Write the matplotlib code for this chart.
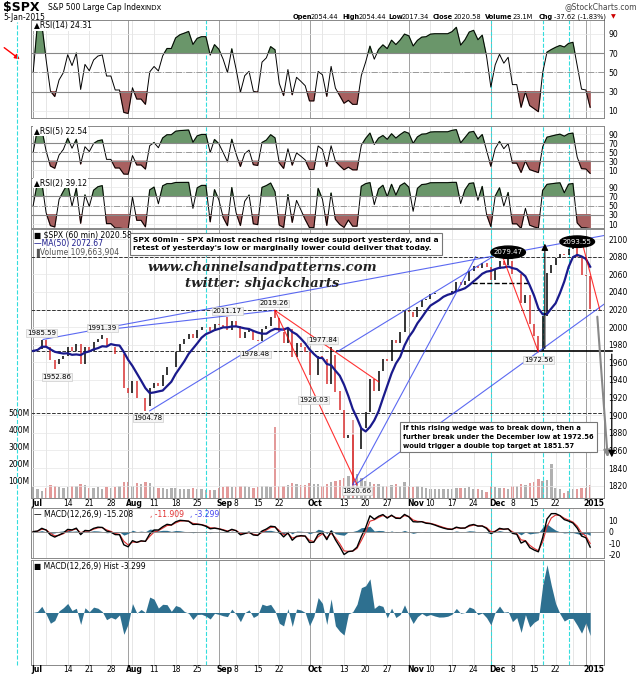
import numpy as np
import pandas as pd
import matplotlib
matplotlib.use('Agg')
import matplotlib.pyplot as plt
from matplotlib.patches import Ellipse, FancyArrowPatch

# ---- data (one value per trading day) ----
holidays = ['2014-07-04', '2014-09-01', '2014-11-27', '2014-12-25', '2015-01-01']
dates = pd.bdate_range('2014-07-01', '2015-01-05')
dates = dates[~dates.isin(pd.to_datetime(holidays))]

closes = [1973, 1975, 1985, 1978, 1963, 1958, 1964, 1967, 1977, 1973, 1981, 1958, 1978,
          1973, 1983, 1987, 1988, 1978, 1978, 1970, 1970, 1931,
          1925, 1939, 1920, 1920, 1910, 1931, 1936, 1933, 1946, 1955, 1955, 1972, 1981,
          1986, 1992, 1988, 1997, 2000, 2000, 1996, 2003,
          2002, 2000, 1997, 2007, 2001, 1988, 1995, 1997, 1985, 1984, 1998, 2001, 2011,
          2010, 1994, 1982, 1998, 1966, 1982, 1977, 1972,
          1946, 1946, 1967, 1964, 1935, 1968, 1928, 1906, 1874, 1877, 1862, 1862, 1886,
          1904, 1941, 1927, 1950, 1964, 1961, 1985, 1982, 1994, 2018,
          2017, 2012, 2023, 2031, 2032, 2038, 2039, 2039, 2039, 2039, 2041, 2051, 2048,
          2052, 2064, 2069, 2067, 2073, 2068,
          2054, 2066, 2075, 2071, 2075, 2060, 2060, 2027, 2036, 2003, 1990, 1973, 2013,
          2062, 2071, 2078, 2083, 2082, 2089, 2091, 2080, 2059,
          2058, 2021]

volume_m = [62, 55, 40, 58, 75, 70, 66, 60, 64, 72, 70, 85, 78, 60, 58, 62, 55, 66, 58, 64, 70, 95,
            92, 70, 88, 84, 96, 90, 62, 60, 58, 55, 60, 56, 52, 55, 54, 58, 50, 52, 48, 46, 45,
            60, 64, 70, 66, 62, 70, 72, 64, 60, 64, 72, 68, 62, 420, 72, 70, 74, 86, 80, 75, 78,
            90, 85, 80, 70, 82, 92, 100, 105, 115, 130, 460, 140, 120, 100, 95, 85, 82, 70, 68,
            75, 80, 72, 95,
            70, 66, 70, 62, 60, 55, 50, 52, 54, 52, 55, 58, 56, 60, 62, 55, 50, 48, 35,
            70, 62, 60, 58, 55, 68, 72, 80, 75, 90, 95, 110, 98, 105, 200, 60, 50, 30, 40, 55, 52, 60,
            60, 75]

# intraday extremes that are labelled on the chart
extremes = {'2014-07-03': 1985.59, '2014-07-09': 1952.86, '2014-07-24': 1991.39,
            '2014-08-07': 1904.78, '2014-09-04': 2011.17, '2014-09-19': 2019.26,
            '2014-09-25': 1978.48, '2014-10-08': 1977.84, '2014-10-09': 1926.03,
            '2014-10-15': 1820.66, '2014-12-05': 2079.47, '2014-12-16': 1972.56,
            '2014-12-29': 2093.55}
label_pos = {'1985.59': (2, 1993), '1952.86': (5.5, 1943), '1991.39': (16, 1999),
             '1904.78': (26.6, 1897), '2011.17': (45, 2018), '2019.26': (55.8, 2027),
             '1978.48': (51.4, 1969), '1977.84': (67, 1985), '1926.03': (65, 1917),
             '1820.66': (75, 1814), '2079.47': (110, 2085), '1972.56': (117, 1963),
             '2093.55': (126, 2097)}

# trend lines: (x0, p0, x1, p1, colour)
trend_lines = [(2.3, 1986, 132.2, 2104, 'blue'), (13.2, 1995, 56, 2019, 'blue'),
               (27, 1905, 58, 1998, 'blue'), (70.4, 1972, 105.8, 2078, 'blue'),
               (74, 1821, 102.5, 2080, 'blue'), (74.5, 1821, 132.2, 2026, 'blue'),
               (56, 2019, 75, 1821, 'red'), (56, 2019, 80, 1938, 'red'),
               (108.8, 2079, 117, 1972, 'red'), (127.3, 2093, 131.2, 2020, 'red')]
cyan_days = ['2014-08-27', '2014-12-01', '2014-12-17', '2014-12-26']

s = pd.Series(closes, index=dates, dtype=float)
x = np.arange(len(s))
opens = s.shift(1).fillna(s.iloc[0]).values
hi = np.maximum(opens, s.values)
lo = np.minimum(opens, s.values)
for d, v in extremes.items():
    i = dates.get_loc(pd.Timestamp(d))
    hi[i] = max(hi[i], v)
    lo[i] = min(lo[i], v)
up = s.values >= opens


def rsi(series, n):
    d = series.diff()
    g = d.clip(lower=0).ewm(alpha=1 / n, adjust=False).mean()
    l = (-d.clip(upper=0)).ewm(alpha=1 / n, adjust=False).mean()
    return (100 - 100 / (1 + g / l.replace(0, 1e-9))).fillna(50)


ma = s.rolling(7, min_periods=1).mean()
macd = s.ewm(span=2.5, adjust=False).mean() - s.ewm(span=5, adjust=False).mean()
signal = macd.ewm(span=2, adjust=False).mean()
hist = macd - signal

# ---- figure ----
W, H = 640, 679
plt.rcParams['font.family'] = ['DejaVu Sans']
plt.rcParams['axes.unicode_minus'] = False
fig = plt.figure(figsize=(W / 100, H / 100), dpi=100)
FS = 5.5


def panel(top, bottom):
    return fig.add_axes([31 / W, 1 - bottom / H, 573 / W, (bottom - top) / H])


ax1 = panel(20, 118)
ax2 = panel(126, 178)
ax3 = panel(178, 228)
axp = panel(229, 498)
axm = panel(508, 558)
axh = panel(560, 665)
axes = [ax1, ax2, ax3, axp, axm, axh]

weeks = [i for i in range(len(dates)) if i == 0 or dates[i].weekday() < dates[i - 1].weekday()]
months = [i for i in range(len(dates)) if i == 0 or dates[i].month != dates[i - 1].month]
cyan_idx = [dates.get_loc(pd.Timestamp(d)) for d in cyan_days]

for a in axes:
    a.set_xlim(-0.5, 132.2)
    for i in weeks:
        a.axvline(i, color='#e2e2e2', lw=0.6, zorder=0)
    for i in months:
        a.axvline(i, color='#a0a0a0', lw=0.7, zorder=0)
    for i in cyan_idx:
        a.axvline(i, color='#33dddd', lw=0.8, ls='--', zorder=1)
    a.yaxis.tick_right()
    a.tick_params(labelsize=FS, length=0, pad=3, labelbottom=False)
    for sp in a.spines.values():
        sp.set_color('#888888')
        sp.set_linewidth(0.7)
    a.set_xticks([])

# RSI panels
for a, n, lim, lab in [(ax1, 4, (2.7, 104.5), 'RSI(14) 24.31'),
                       (ax2, 2.5, (-7, 107.8), 'RSI(5) 22.54'),
                       (ax3, 1.5, (1.4, 109.5), 'RSI(2) 39.12')]:
    r = rsi(s, n).values
    a.plot(x, r, color='black', lw=0.7)
    a.fill_between(x, r, 70, where=r > 70, color='#6a966a', interpolate=True)
    a.fill_between(x, r, 30, where=r < 30, color='#a86060', interpolate=True)
    a.axhline(70, color='#888888', lw=0.8)
    a.axhline(30, color='#888888', lw=0.8)
    a.axhline(50, color='#999999', lw=0.7, ls='-.')
    for v in (10, 30, 50, 70, 90):
        a.axhline(v, color='#e6e6e6', lw=0.5, zorder=0)
    a.set_ylim(*lim)
    a.set_yticks([10, 30, 50, 70, 90])
    a.text(0.005, 0.985, '\u25b2' + lab, transform=a.transAxes, fontsize=FS, va='top',
           bbox=dict(facecolor='white', edgecolor='none', pad=0.5))

# price panel with volume overlay
axv = axp.twinx()
axv.set_ylim(0, 1582)
axv.bar(x, volume_m, width=0.55, color=np.where(up, '#b0b0b0', '#e39a9a'), zorder=1)
axv.yaxis.tick_left()
axv.set_yticks([100, 200, 300, 400, 500])
axv.set_yticklabels(['100M', '200M', '300M', '400M', '500M'])
axv.tick_params(labelsize=FS, length=0, pad=1)
axv.set_xlim(-0.5, 132.2)
axv.set_xticks([])
for sp in axv.spines.values():
    sp.set_visible(False)
axp.yaxis.tick_right()
axp.set_zorder(axv.get_zorder() + 1)
axp.patch.set_visible(False)

axp.set_ylim(1806, 2111.4)
axp.set_yticks(range(1820, 2101, 20))
for v in range(1820, 2101, 20):
    axp.axhline(v, color='#e6e6e6', lw=0.5, zorder=0)
axp.vlines(x, lo, hi, colors=np.where(up, 'black', '#d83030'), lw=1.1, zorder=3)
axp.plot(x, ma.values, color='#1a1a8c', lw=1.6, zorder=4)

for v in (2080, 2020, 1903):
    axp.axhline(v, color='#333333', lw=0.7, ls='--', zorder=2)
axp.plot([-0.5, 70.4], [1972.56] * 2, color='#333333', lw=0.7, ls='--', zorder=2)
axp.plot([70.4, 134], [1972.56] * 2, color='black', lw=1.2, zorder=2, clip_on=False)
axp.plot([101.6, 114.6], [2050] * 2, color='black', lw=1, ls='--', zorder=2)

for x0, p0, x1, p1, c in trend_lines:
    axp.plot([x0, x1], [p0, p1], color=c if c == 'red' else '#3344ee',
             lw=0.8, zorder=5, alpha=0.8)

axp.add_patch(Ellipse((110, 2085), 8, 14, color='black', zorder=6))
axp.add_patch(Ellipse((126, 2097), 8, 13, color='black', zorder=6))
for lab, (lx, ly) in label_pos.items():
    col = 'white' if lab in ('2079.47', '2093.55') else 'black'
    bb = None if col == 'white' else dict(facecolor='#f4f4f4', edgecolor='#cccccc', pad=0.6, lw=0.5)
    axp.text(lx, ly, lab, fontsize=5, ha='center', va='center', color=col, zorder=7, bbox=bb)

axp.annotate('', xy=(118.5, 2098), xytext=(118.5, 1972.5),
             arrowprops=dict(arrowstyle='-|>', color='black', lw=0.8), zorder=6)
axp.annotate('', xy=(133.1, 1849), xytext=(130.6, 2015), annotation_clip=False,
             arrowprops=dict(arrowstyle='-|>', color='#888888', lw=1.5), zorder=6)
axp.annotate('', xy=(134, 1849), xytext=(134, 1972.5), annotation_clip=False,
             arrowprops=dict(arrowstyle='-|>', color='black', lw=0.9), zorder=6)

axp.text(0.005, 0.995, '\u25a0 $SPX (60 min) 2020.58', transform=axp.transAxes, fontsize=FS,
         va='top', color='black')
axp.text(0.005, 0.963, '\u2014MA(50) 2072.67', transform=axp.transAxes, fontsize=FS,
         va='top', color='#1a1a8c')
axp.text(0.005, 0.931, '\u2590Volume 109,663,904', transform=axp.transAxes, fontsize=FS,
         va='top', color='#555555')

fig.text(133 / W, 1 - 244 / H,
         "SPX 60min - SPX almost reached rising wedge support yesterday, and a\n"
         "retest of yesterday's low or marginally lower could deliver that today.",
         fontsize=5.4, fontweight='bold', va='center', linespacing=1.5,
         bbox=dict(facecolor='white', edgecolor='#777777', pad=2.5, lw=0.8), zorder=10)
fig.text(262 / W, 1 - 268 / H, 'www.channelsandpatterns.com', fontsize=9.5,
         fontfamily='DejaVu Serif', fontstyle='italic', fontweight='bold', ha='center',
         va='center', color='#222222')
fig.text(262 / W, 1 - 283 / H, 'twitter: shjackcharts', fontsize=9.5,
         fontfamily='DejaVu Serif', fontstyle='italic', fontweight='bold', ha='center',
         va='center', color='#222222')
fig.text(403 / W, 1 - 437 / H,
         "If this rising wedge was to break down, then a\n"
         "further break under the December low at 1972.56\n"
         "would trigger a double top target at 1851.57",
         fontsize=4.9, fontweight='bold', va='center', linespacing=1.6,
         bbox=dict(facecolor='white', edgecolor='#777777', pad=2.5, lw=0.8), zorder=10)

# MACD panels
axm.plot(x, signal.values, color='#e03030', lw=0.8)
axm.plot(x, macd.values, color='black', lw=1.0)
axm.fill_between(x, hist.values, 0, color='#2e7090', lw=0)
axm.axhline(0, color='#888888', lw=0.6)
axm.set_ylim(-23, 20.6)
axm.set_yticks([-20, -10, 0, 10])
axm.text(0.005, 0.97, '\u2014 MACD(12,26,9) -15.208', transform=axm.transAxes,
         fontsize=FS, va='top')
axm.text(0.207, 0.97, ', -11.909', transform=axm.transAxes, fontsize=FS, va='top', color='#e03030')
axm.text(0.277, 0.97, ', -3.299', transform=axm.transAxes, fontsize=FS, va='top', color='#4444ee')

axh.fill_between(x, hist.values, 0, color='#2e7090', lw=0)
hm = np.abs(hist.values).max() * 1.1
axh.set_ylim(-hm, hm)
axh.set_yticks([])
axh.text(0.005, 0.985, '\u25a0 MACD(12,26,9) Hist -3.299', transform=axh.transAxes,
         fontsize=FS, va='top')

# date labels under price and hist panels
for ypx in (503, 670):
    for i in range(len(dates)):
        d = dates[i]
        xf = (31 + (i + 0.5) / 132.7 * 573) / W
        if i in months:
            lab = '2015' if d.year == 2015 else d.strftime('%b')
            fig.text(xf - 2 / W, 1 - ypx / H, lab, fontsize=FS, fontweight='bold',
                     ha='left', va='center')
        elif i in weeks and all(abs(i - m) > 3 for m in months):
            fig.text(xf, 1 - ypx / H, str(d.day), fontsize=FS, ha='center', va='center')

# header
fig.text(3 / W, 1 - 8 / H, '$SPX', fontsize=9, fontweight='bold', va='center')
fig.text(48 / W, 1 - 8 / H, 'S&P 500 Large Cap Index', fontsize=FS, va='center')
fig.text(144 / W, 1 - 8 / H, 'INDX', fontsize=5, va='center')
fig.text(3 / W, 1 - 18 / H, '5-Jan-2015', fontsize=FS, va='center')
fig.text(637 / W, 1 - 7 / H, '@StockCharts.com', fontsize=FS, ha='right', va='center',
         color='#444444')
for px, t, b in [(293, 'Open', True), (311, '2054.44', False), (342, 'High', True),
                 (359, '2054.44', False), (388, 'Low', True), (402, '2017.34', False),
                 (433, 'Close', True), (454, '2020.58', False), (485, 'Volume', True),
                 (513, '23.1M', False), (539, 'Chg', True), (554, '-37.62 (-1.83%)', False)]:
    fig.text(px / W, 1 - 17 / H, t, fontsize=4.8, fontweight='bold' if b else 'normal',
             va='center')
fig.text(611 / W, 1 - 17 / H, '\u25bc', fontsize=4.5, color='#cc0000', va='center')

fig.add_artist(plt.Line2D([17 / W, 17 / W], [1 - 665 / H, 1 - 22 / H], color='#33dddd',
                          lw=0.8, ls='--'))
fig.add_artist(FancyArrowPatch((2 / W, 1 - 46 / H), (22 / W, 1 - 61 / H),
                               transform=fig.transFigure, arrowstyle='-|>',
                               mutation_scale=7, color='red', lw=1))

fig.savefig('out.png', dpi=100)
